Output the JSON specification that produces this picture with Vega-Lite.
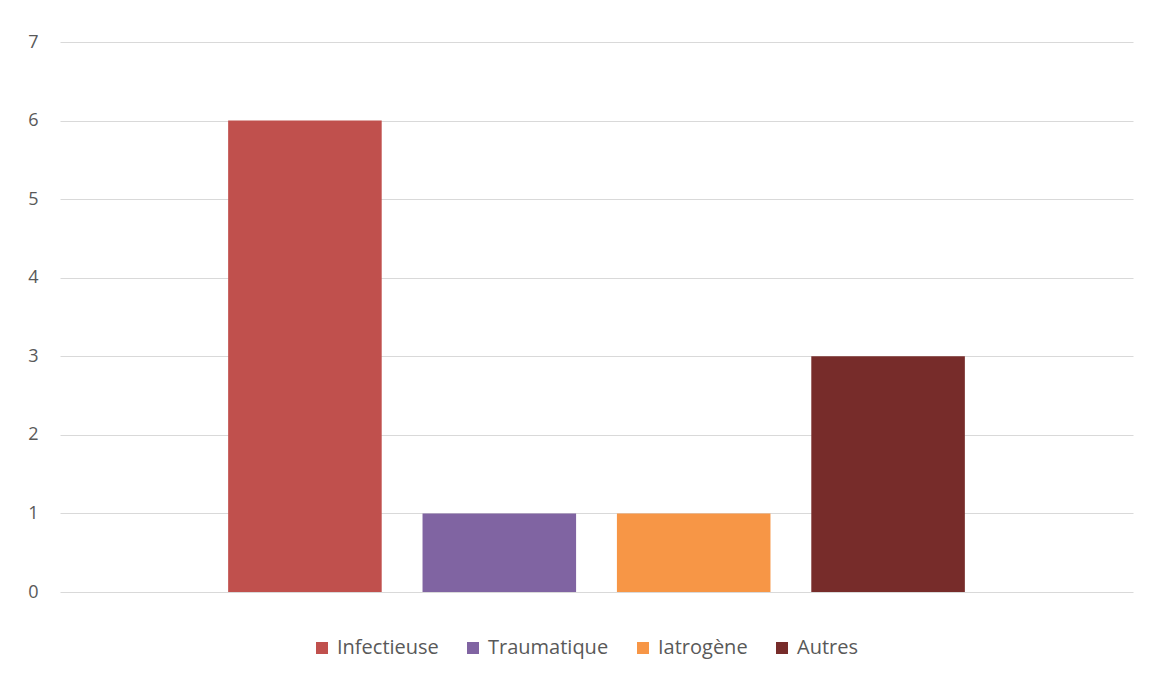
{
  "$schema": "https://vega.github.io/schema/vega-lite/v6.json",
  "width": 1073,
  "height": 550,
  "autosize": {"type": "none"},
  "padding": {"left": 60, "top": 42, "right": 19, "bottom": 86},
  "background": "white",
  "config": {"view": {"stroke": null}, "font": "Open Sans"},
  "data": {"values": [
    {"cause": "Infectieuse", "n": 6},
    {"cause": "Traumatique", "n": 1},
    {"cause": "Iatrogène", "n": 1},
    {"cause": "Autres", "n": 3}
  ]},
  "mark": {"type": "bar"},
  "encoding": {
    "x": {"field": "cause", "type": "nominal", "sort": null, "axis": null,
      "scale": {"paddingInner": 0.21, "paddingOuter": 0.865}},
    "y": {"field": "n", "type": "quantitative",
      "scale": {"domain": [0, 7], "nice": false},
      "axis": {"title": null, "values": [0,1,2,3,4,5,6,7], "ticks": false, "domain": false,
        "labelPadding": 22, "labelFontSize": 18, "labelColor": "#595959",
        "gridColor": "#d9d9d9", "gridWidth": 1}},
    "color": {"field": "cause", "type": "nominal", "sort": null,
      "scale": {"domain": ["Infectieuse", "Traumatique", "Iatrogène", "Autres"],
        "range": ["#c0504d", "#8064a2", "#f79646", "#772c2a"]},
      "legend": {"title": null, "orient": "none", "legendX": 252, "legendY": 596, "direction": "horizontal",
        "symbolType": "square", "symbolSize": 144, "symbolStrokeWidth": 0,
        "labelFontSize": 20, "labelColor": "#595959", "columnPadding": 24,
        "labelOffset": 5}}
  }
}
